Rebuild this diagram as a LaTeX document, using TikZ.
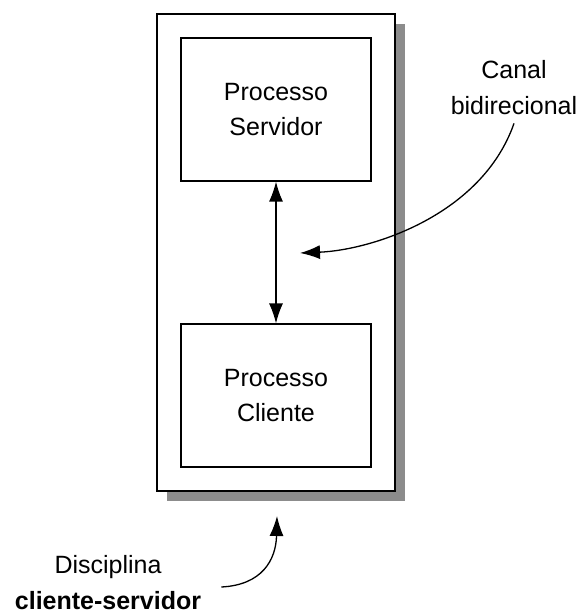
\documentclass[tikz,border=0pt]{standalone}
\usepackage{fontspec}
\setmainfont{Liberation Sans}
\usetikzlibrary{arrows.meta,shadows}

\tikzset{
  box/.style={draw=black, line width=1.2pt, fill=white, inner sep=0pt,
              align=center, font=\fontsize{25}{35}\selectfont},
  frame/.style={draw=black, line width=1.2pt, fill=white, inner sep=0pt,
                drop shadow={shadow xshift=10pt, shadow yshift=-10pt,
                             opacity=1, fill=black!45}},
  caption/.style={align=center, inner sep=0pt, font=\fontsize{25}{36}\selectfont},
  link/.style={line width=1.3pt, -{Latex[length=20pt,width=14pt]}},
  duplex/.style={line width=1.3pt, {Latex[length=20pt,width=14pt]}-{Latex[length=20pt,width=14pt]}}
}

\begin{document}
\begin{tikzpicture}[x=1pt, y=-1pt]
  \useasboundingbox (0,0) rectangle (585,614);

  % system frame with its shadow
  \node[frame, minimum width=238pt, minimum height=477pt] (sys) at (276,252.5) {};

  % the two processes
  \node[box, minimum width=190pt, minimum height=143pt] (srv) at (276,109.5)
    {Processo\\Servidor};
  \node[box, minimum width=190pt, minimum height=143pt] (cli) at (276,395.5)
    {Processo\\Cliente};

  % channel between them
  \draw[duplex] (srv.south) -- (cli.north);

  % captions
  \node[caption] (canal) at (514,88) {Canal\\bidirecional};
  \node[caption] (disc) at (108,583) {Disciplina\\\textbf{cliente-servidor}};

  \coordinate (chan) at (300,253);
  \coordinate (base) at (277,516);

  \draw[link] (canal.south) ++(0,8) .. controls (482,215) and (372,250) .. (chan);
  \draw[link] (disc.east) ++(20,4) .. controls (262,585) and (276,560) .. (base);
\end{tikzpicture}
\end{document}
